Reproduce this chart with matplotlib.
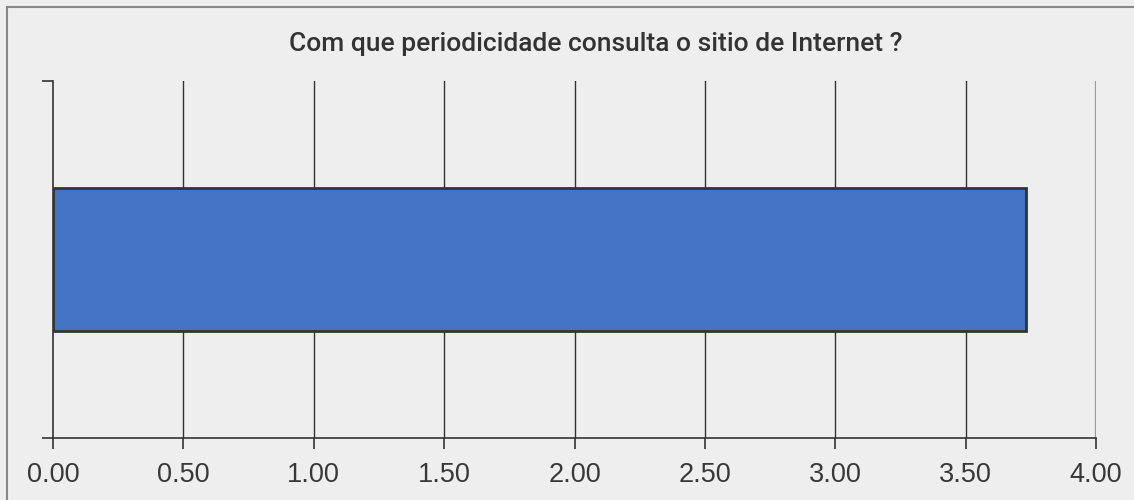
import matplotlib
matplotlib.use("Agg")
import matplotlib.pyplot as plt
from matplotlib.patches import Rectangle

plt.rcParams['font.family'] = ['Roboto', 'DejaVu Sans']

# survey question and its average score
categories = ["Com que periodicidade consulta o sitio de Internet ?"]
values = [3.73]
xticks = [0.0, 0.5, 1.0, 1.5, 2.0, 2.5, 3.0, 3.5, 4.0]

bg = '#eeeeee'
fig = plt.figure(figsize=(11.34, 5.0), dpi=100, facecolor=bg)
# frame around the chart (left and top edges visible)
fig.patches.append(Rectangle((7 / 1134, -0.1), 1.2, (493 + 50) / 500,
                             transform=fig.transFigure, fill=False,
                             edgecolor='#888888', linewidth=1.5))

ax = fig.add_axes([53 / 1134, 62 / 500, 1043 / 1134, 357 / 500])
ax.set_facecolor(bg)

ax.barh([0], values, height=0.4, color='#4472c4', edgecolor='#333333',
        linewidth=2, zorder=3)

ax.set_xlim(0, 4)
ax.set_ylim(-0.5, 0.5)
ax.set_xticks(xticks)
ax.set_xticklabels([f"{t:.2f}" for t in xticks], fontsize=19.5, color='#383838',
                   family=['Liberation Sans', 'DejaVu Sans'])
ax.set_yticks([-0.5, 0.5])
ax.set_yticklabels([])

# vertical grid lines, last one lighter
for t in xticks[1:]:
    col = '#999999' if t == xticks[-1] else '#333333'
    lw = 1.6 if t == xticks[-1] else 1.0
    ax.axvline(t, color=col, linewidth=lw, zorder=1)

for s in ['top', 'right']:
    ax.spines[s].set_visible(False)
ax.spines['left'].set_color('#333333')
ax.spines['bottom'].set_color('#333333')
ax.spines['left'].set_linewidth(1.2)
ax.spines['bottom'].set_linewidth(1.2)
ax.tick_params(axis='x', length=8, width=1.2, color='#333333', pad=9)
ax.tick_params(axis='y', length=8, width=1.2, color='#333333')
ax.get_xticklines()[-2].set_color('#999999')

fig.text(596 / 1134, 1 - 44 / 500, categories[0], ha='center', va='center',
         fontsize=19, fontweight='medium', color='#333333')

fig.savefig('out.png', dpi=100, facecolor=bg)
